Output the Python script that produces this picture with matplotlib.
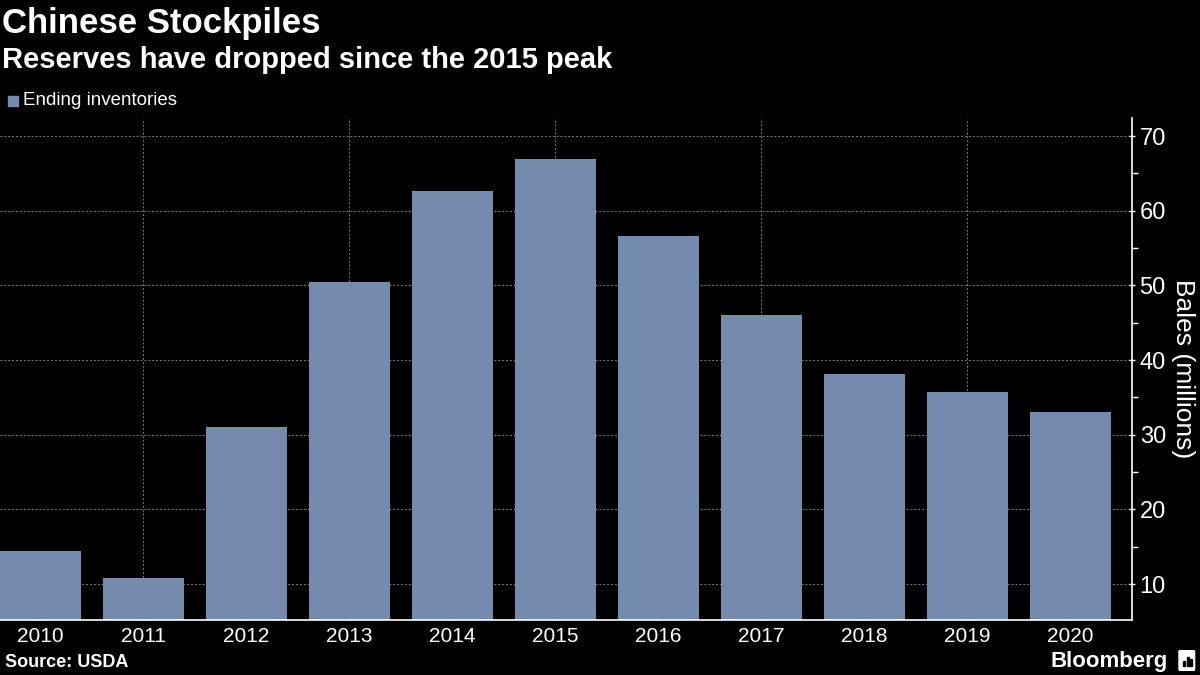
import matplotlib.pyplot as plt
import matplotlib.patches as mpatches

# data
years = ["2010", "2011", "2012", "2013", "2014", "2015", "2016", "2017", "2018", "2019", "2020"]
inventories = [14.4, 10.8, 31.1, 50.4, 62.7, 66.9, 56.6, 46.0, 38.1, 35.7, 33.1]
y_ticks = [10, 20, 30, 40, 50, 60, 70]

bar_color = "#748bad"
plt.rcParams["font.family"] = ["Liberation Sans", "DejaVu Sans"]

fig = plt.figure(figsize=(12, 6.75), dpi=100, facecolor="black")
ax = fig.add_axes([0.0, 0.0815, 0.9433, 0.7435])
ax.set_facecolor("black")

x = list(range(len(years)))
ax.bar(x, inventories, width=0.79, color=bar_color, zorder=2)

ax.set_xlim(-0.393, 10.6)
ax.set_ylim(5.2, 72.4)

# horizontal grid at every 10, vertical grid at odd years
for v in y_ticks:
    ax.axhline(v, color="#777777", linestyle=(0, (2, 2)), linewidth=0.7, zorder=1)
for i in x[1::2]:
    ax.axvline(i, color="#777777", linestyle=(0, (2, 2)), linewidth=0.7, zorder=1)

ax.yaxis.tick_right()
ax.yaxis.set_label_position("right")
ax.set_yticks(y_ticks)
ax.set_yticks([15, 25, 35, 45, 55, 65], minor=True)
ax.tick_params(axis="y", which="major", colors="white", labelsize=17, length=5,
               direction="inout", width=1, pad=3)
ax.tick_params(axis="y", which="minor", colors="white", length=4, direction="out", width=1)
ax.set_xticks(x)
ax.set_xticklabels(years)
ax.tick_params(axis="x", colors="white", labelsize=15, length=3, direction="in", width=1, pad=5)

for side in ["top", "left"]:
    ax.spines[side].set_visible(False)
ax.spines["right"].set_color("white")
ax.spines["bottom"].set_color("white")
ax.spines["right"].set_linewidth(1.2)
ax.spines["bottom"].set_linewidth(1.2)

ax.set_ylabel("Bales (millions)", color="white", fontsize=19, rotation=-90, labelpad=21)

# titles
fig.text(0.002, 0.989, "Chinese Stockpiles", color="white", fontsize=25, fontweight="bold",
         ha="left", va="top")
fig.text(0.002, 0.932, "Reserves have dropped since the 2015 peak", color="white", fontsize=21,
         fontweight="bold", ha="left", va="top")

# legend
fig.patches.append(mpatches.Rectangle((0.007, 0.843), 0.008, 0.0155, transform=fig.transFigure,
                                      color=bar_color))
fig.text(0.019, 0.851, "Ending inventories", color="white", fontsize=13.5, ha="left", va="center")

# footer
fig.text(0.004, 0.006, "Source: USDA", color="white", fontsize=13, fontweight="bold",
         ha="left", va="bottom")
fig.text(0.973, 0.004, "Bloomberg", color="white", fontsize=16, fontweight="bold",
         ha="right", va="bottom")
fig.patches.append(mpatches.FancyBboxPatch((0.9835, 0.008), 0.011, 0.027,
                                           boxstyle="round,pad=0.001", transform=fig.transFigure,
                                           color="white"))
for dx, h in [(0.0, 0.008), (0.003, 0.014), (0.006, 0.010)]:
    fig.patches.append(mpatches.Rectangle((0.9860 + dx, 0.013), 0.0015, h,
                                          transform=fig.transFigure, color="black"))

fig.savefig("out.png", dpi=100, facecolor="black")
